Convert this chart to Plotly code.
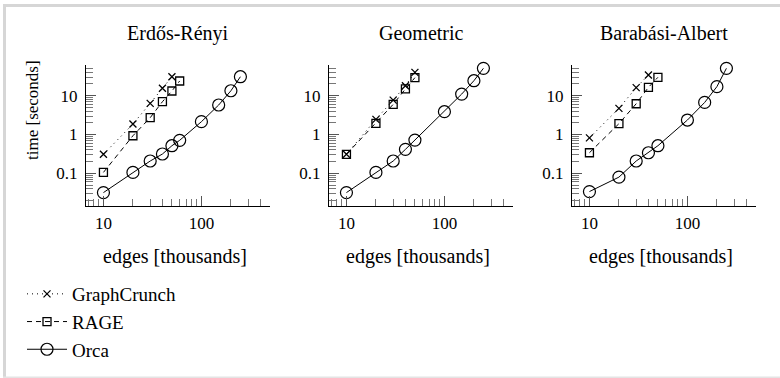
import plotly.graph_objects as go

W, H = 780, 378

# ---------------- data ----------------
panel_titles = ["Erdős-Rényi", "Geometric", "Barabási-Albert"]
series_names = ["GraphCrunch", "RAGE", "Orca"]

# Erdős-Rényi
er_gc_edges = [10, 20, 30, 40, 50]
er_gc_time = [0.31, 1.86, 6.35, 15.5, 30.8]
er_rage_edges = [10, 20, 30, 40, 50, 60]
er_rage_time = [0.106, 0.93, 2.71, 7.0, 13.2, 23.9]
er_orca_edges = [10, 20, 30, 40, 50, 60, 100, 150, 200, 250]
er_orca_time = [0.032, 0.106, 0.208, 0.315, 0.515, 0.71, 2.14, 5.75, 13.4, 30.8]

# Geometric
geo_gc_edges = [10, 20, 30, 40, 50]
geo_gc_time = [0.31, 2.46, 7.7, 18.1, 39.9]
geo_rage_edges = [10, 20, 30, 40, 50]
geo_rage_time = [0.31, 1.94, 5.98, 14.9, 29.1]
geo_orca_edges = [10, 20, 30, 40, 50, 100, 150, 200, 250]
geo_orca_time = [0.032, 0.106, 0.208, 0.415, 0.72, 3.87, 11.0, 24.3, 50.6]

# Barabási-Albert
ba_gc_edges = [10, 20, 30, 40]
ba_gc_time = [0.82, 4.72, 16.1, 34.0]
ba_rage_edges = [10, 20, 30, 40, 50]
ba_rage_time = [0.34, 1.90, 6.2, 16.4, 29.7]
ba_orca_edges = [10, 20, 30, 40, 50, 100, 150, 200, 250]
ba_orca_time = [0.034, 0.08, 0.208, 0.34, 0.515, 2.36, 6.7, 17.1, 50.6]

x_tick_vals = [10, 100]
x_tick_text = ["10", "100"]
y_tick_vals = [0.1, 1, 10]
y_tick_text = ["0.1", "1", "10"]
x_minor_vals = [7, 8, 9, 20, 30, 40, 50, 60, 70, 80, 90, 200, 300, 400, 500]
y_minor_vals = [0.02, 0.03, 0.04, 0.05, 0.06, 0.07, 0.08, 0.09,
                0.2, 0.3, 0.4, 0.5, 0.6, 0.7, 0.8, 0.9,
                2, 3, 4, 5, 6, 7, 8, 9, 20, 30, 40, 50, 60]

x_label = "edges [thousands]"
y_label = "time [seconds]"

panels = [
    [(er_gc_edges, er_gc_time), (er_rage_edges, er_rage_time), (er_orca_edges, er_orca_time)],
    [(geo_gc_edges, geo_gc_time), (geo_rage_edges, geo_rage_time), (geo_orca_edges, geo_orca_time)],
    [(ba_gc_edges, ba_gc_time), (ba_rage_edges, ba_rage_time), (ba_orca_edges, ba_orca_time)],
]

# ---------------- styles ----------------
FONT = "'Liberation Serif', 'DejaVu Serif', 'Noto Serif', serif"
styles = [
    dict(line=dict(color="black", width=1, dash="1px,4px"),
         marker=dict(symbol="x-thin-open", size=7, color="black", line=dict(color="black", width=1.3))),
    dict(line=dict(color="black", width=1, dash="5px,4px"),
         marker=dict(symbol="square-open", size=8, color="black", line=dict(color="black", width=1.3))),
    dict(line=dict(color="black", width=1),
         marker=dict(symbol="circle-open", size=12, color="black", line=dict(color="black", width=1.2))),
]

def px_x(x):
    return x / W

def px_y(y):
    return 1 - y / H

x_doms = [(86, 270), (329, 513), (572, 756)]
y_dom = (65, 206)

fig = go.Figure()
layout = {}
for i, data in enumerate(panels):
    n = "" if i == 0 else str(i + 1)
    for j, (xs, ys) in enumerate(data):
        fig.add_trace(go.Scatter(
            x=xs, y=ys, mode="lines+markers", name=series_names[j],
            xaxis="x" + n, yaxis="y" + n, showlegend=(i == 0), cliponaxis=False,
            legendgroup=series_names[j], **styles[j]))
    common = dict(type="log", showline=True, linecolor="black", linewidth=1,
                  showgrid=False, zeroline=False, ticks="inside", ticklen=10,
                  tickwidth=1, tickcolor="#555", tickmode="array",
                  tickfont=dict(family=FONT, size=17, color="black"),
                  minor=dict(ticks="inside", ticklen=7, tickwidth=1, tickcolor="#777",
                             tickmode="array", showgrid=False))
    xa = dict(common)
    xa.update(domain=[px_x(x_doms[i][0]), px_x(x_doms[i][1])], range=[0.822, 2.70],
              anchor="y" + n, tickvals=x_tick_vals, ticktext=x_tick_text, ticklabelstandoff=2)
    xa["minor"] = dict(common["minor"], tickvals=x_minor_vals)
    ya = dict(common)
    ya.update(domain=[px_y(y_dom[1]), px_y(y_dom[0])], range=[-1.84, 1.79],
              anchor="x" + n, tickvals=y_tick_vals, ticktext=y_tick_text, ticklabelstandoff=4)
    ya["minor"] = dict(common["minor"], tickvals=y_minor_vals)
    layout["xaxis" + n] = xa
    layout["yaxis" + n] = ya

annotations = []
for i, t in enumerate(panel_titles):
    cx = (x_doms[i][0] + x_doms[i][1]) / 2
    annotations.append(dict(text=t, x=px_x(cx), y=px_y(33), xref="paper", yref="paper",
                            showarrow=False, xanchor="center", yanchor="middle",
                            font=dict(family=FONT, size=20, color="black")))
    annotations.append(dict(text=x_label, x=px_x(cx - 3), y=px_y(256), xref="paper", yref="paper",
                            showarrow=False, xanchor="center", yanchor="middle",
                            font=dict(family=FONT, size=20, color="black")))
annotations.append(dict(text=y_label, x=px_x(33), y=px_y(110), xref="paper", yref="paper",
                        showarrow=False, xanchor="center", yanchor="middle", textangle=-90,
                        font=dict(family=FONT, size=17, color="black")))

shapes = [
    dict(type="rect", xref="paper", yref="paper", x0=px_x(3), x1=1, y0=px_y(7), y1=px_y(4),
         fillcolor="#d6d6d6", line=dict(width=0), layer="below"),
    dict(type="rect", xref="paper", yref="paper", x0=px_x(3), x1=px_x(6), y0=0, y1=px_y(4),
         fillcolor="#d6d6d6", line=dict(width=0), layer="below"),
    dict(type="rect", xref="paper", yref="paper", x0=px_x(3), x1=1, y0=px_y(378), y1=px_y(376.5),
         fillcolor="#e4e4e4", line=dict(width=0), layer="below"),
]

fig.update_layout(
    width=W, height=H, margin=dict(l=0, r=0, t=0, b=0),
    paper_bgcolor="white", plot_bgcolor="white",
    font=dict(family=FONT, color="black"),
    annotations=annotations, shapes=shapes,
    legend=dict(x=px_x(22), y=px_y(275), xanchor="left", yanchor="top",
                font=dict(family=FONT, size=19, color="black"),
                bgcolor="rgba(0,0,0,0)", traceorder="normal", itemwidth=40),
    **layout,
)

fig.write_html("out.html")
